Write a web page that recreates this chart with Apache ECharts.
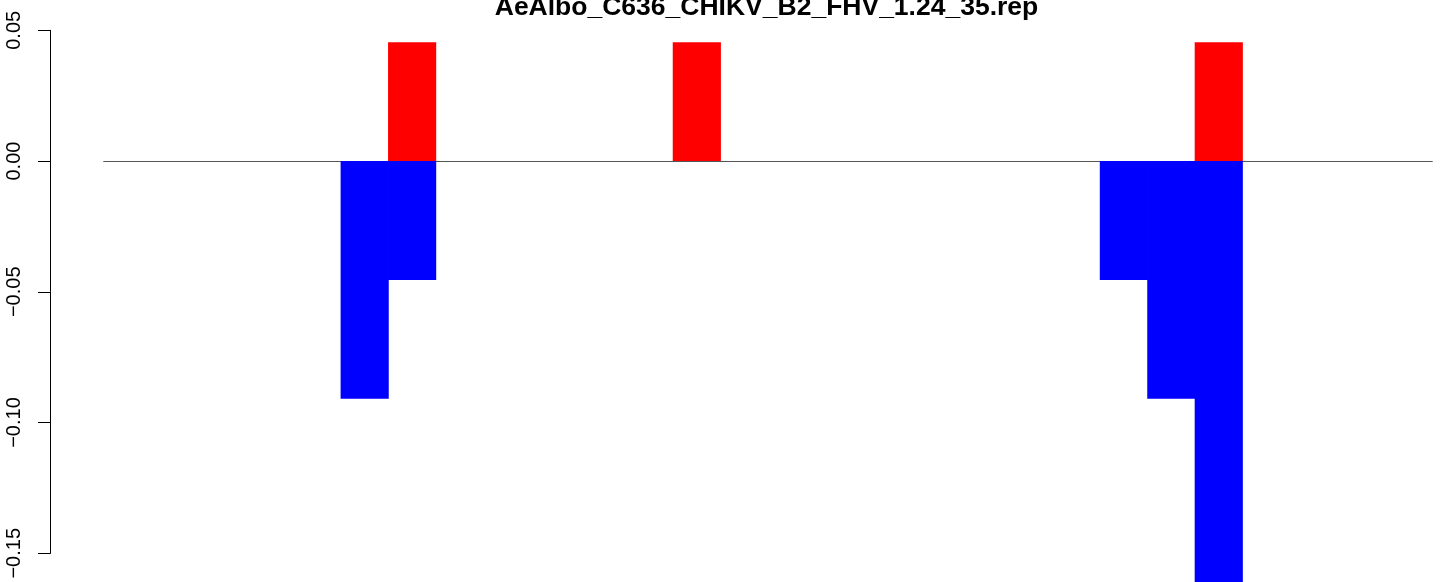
<!DOCTYPE html>
<html>
<head>
<meta charset="utf-8">
<script src="https://cdn.jsdelivr.net/npm/echarts@6/dist/echarts.min.js"></script>
<style>
html,body{margin:0;padding:0;background:#fff;}
#chart{width:1444px;height:582px;}
</style>
</head>
<body>
<div id="chart"></div>
<script>
// ---- data ----
const titleText = "AeAlbo_C636_CHIKV_B2_FHV_1.24_35.rep";
const positions = ["1","2","3","4","5","6","7","8","9","10","11","12","13","14","15","16","17","18","19","20","21","22","23","24","25","26","27","28"];
const plusValues  = [null,null,null,null,null,null,0.04545,null,null,null,null,null,0.04545,null,null,null,null,null,null,null,null,null,null,0.04545,null,null,null,null];
const minusValues = [null,null,null,null,null,-0.09091,-0.04545,null,null,null,null,null,null,null,null,null,null,null,null,null,null,-0.04545,-0.09091,-0.18182,null,null,null,null];
const yTicks = [-0.15, -0.10, -0.05, 0.00, 0.05];

const chart = echarts.init(document.getElementById('chart'), null, {renderer:'canvas'});
const FONT = 'Liberation Sans, Arial, Helvetica, sans-serif';
chart.setOption({
  animation: false,
  backgroundColor: '#ffffff',
  title: {
    text: titleText,
    left: 766.5,
    textAlign: 'center',
    top: -6,
    padding: 0,
    textStyle: {fontFamily: FONT, fontWeight: 'bold', fontSize: 26.5, color: '#000'}
  },
  grid: {left: 103.7, right: 11.7, top: 30.3, bottom: 28.7, containLabel: false},
  xAxis: {
    type: 'category',
    data: positions,
    boundaryGap: true,
    axisLine: {show: true, onZero: true, lineStyle: {color: '#555555', width: 1}},
    axisTick: {show: false},
    axisLabel: {show: false},
    splitLine: {show: false}
  },
  yAxis: {
    type: 'value',
    min: yTicks[0],
    max: yTicks[yTicks.length - 1],
    interval: 0.05,
    offset: 53.2,
    axisLine: {show: true, lineStyle: {color: '#000', width: 1}},
    axisTick: {show: true, length: 12.5, lineStyle: {color: '#000', width: 1}},
    splitLine: {show: false},
    axisLabel: {
      rotate: 90,
      margin: 26,
      fontFamily: FONT,
      fontSize: 20,
      color: '#000',
      formatter: v => (v < 0 ? '\u2212' : '') + Math.abs(v).toFixed(2)
    }
  },
  series: [
    {type: 'bar', name: 'plus', data: plusValues, barWidth: '101.5%', barGap: '-100%', clip: false,
     itemStyle: {color: '#ff0000'}},
    {type: 'bar', name: 'minus', data: minusValues, barWidth: '101.5%', barGap: '-100%', clip: false,
     itemStyle: {color: '#0000ff'}}
  ]
});
</script>
</body>
</html>
